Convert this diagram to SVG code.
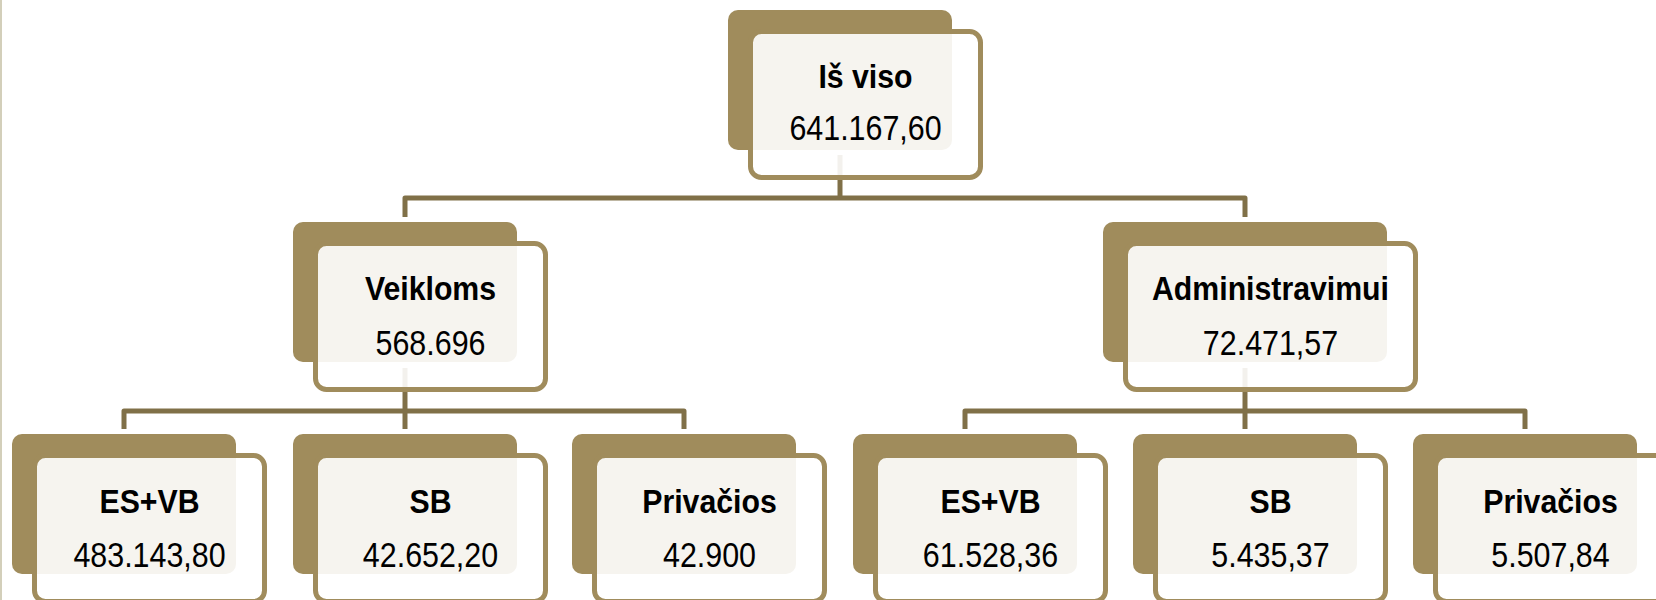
<svg xmlns="http://www.w3.org/2000/svg" width="1656" height="600" viewBox="0 0 1656 600">
<style>
.back{fill:#A08C5C}
.front{fill:#FFFFFF;fill-opacity:0.9;stroke:#A08C5C;stroke-width:5}
.conn{fill:none;stroke:#807048;stroke-width:5;stroke-linejoin:round}
.t{font-family:"Liberation Sans",Arial,sans-serif;font-weight:bold;font-size:34px;fill:#000;text-anchor:middle}
.v{font-family:"Liberation Sans",Arial,sans-serif;font-size:36px;fill:#000;text-anchor:middle}
</style>
<rect width="1656" height="600" fill="#FFFFFF"/>
<rect x="0" y="0" width="2" height="600" fill="#D3CFBA"/>
<g id="connectors">
<path class="conn" d="M840,155 V198"/>
<path class="conn" d="M405,217 V198 H1245 V217"/>
<path class="conn" d="M405,368 V429"/>
<path class="conn" d="M124,429 V411 H684 V429"/>
<path class="conn" d="M1245,368 V429"/>
<path class="conn" d="M965,429 V411 H1525 V429"/>
</g>
<g id="node-is-viso">
<rect class="back" x="728" y="10" width="224" height="140" rx="10"/>
<rect class="front" x="750.5" y="31.5" width="230" height="146" rx="11"/>
<text class="t" transform="translate(865.5,88) scale(0.89,1)">Iš viso</text>
<text class="v" transform="translate(865.5,140) scale(0.845,1)">641.167,60</text>
</g>
<g id="node-veikloms">
<rect class="back" x="293" y="222" width="224" height="140" rx="10"/>
<rect class="front" x="315.5" y="243.5" width="230" height="146" rx="11"/>
<text class="t" transform="translate(430.5,300) scale(0.89,1)">Veikloms</text>
<text class="v" transform="translate(430.5,355) scale(0.845,1)">568.696</text>
</g>
<g id="node-administravimui">
<rect class="back" x="1103" y="222" width="284" height="140" rx="10"/>
<rect class="front" x="1125.5" y="243.5" width="290" height="146" rx="11"/>
<text class="t" transform="translate(1270.5,300) scale(0.89,1)">Administravimui</text>
<text class="v" transform="translate(1270.5,355) scale(0.845,1)">72.471,57</text>
</g>
<g id="node-veikloms-esvb">
<rect class="back" x="12" y="434" width="224" height="140" rx="10"/>
<rect class="front" x="34.5" y="455.5" width="230" height="146" rx="11"/>
<text class="t" transform="translate(149.5,513) scale(0.89,1)">ES+VB</text>
<text class="v" transform="translate(149.5,567) scale(0.845,1)">483.143,80</text>
</g>
<g id="node-veikloms-sb">
<rect class="back" x="293" y="434" width="224" height="140" rx="10"/>
<rect class="front" x="315.5" y="455.5" width="230" height="146" rx="11"/>
<text class="t" transform="translate(430.5,513) scale(0.89,1)">SB</text>
<text class="v" transform="translate(430.5,567) scale(0.845,1)">42.652,20</text>
</g>
<g id="node-veikloms-privacios">
<rect class="back" x="572" y="434" width="224" height="140" rx="10"/>
<rect class="front" x="594.5" y="455.5" width="230" height="146" rx="11"/>
<text class="t" transform="translate(709.5,513) scale(0.89,1)">Privačios</text>
<text class="v" transform="translate(709.5,567) scale(0.845,1)">42.900</text>
</g>
<g id="node-admin-esvb">
<rect class="back" x="853" y="434" width="224" height="140" rx="10"/>
<rect class="front" x="875.5" y="455.5" width="230" height="146" rx="11"/>
<text class="t" transform="translate(990.5,513) scale(0.89,1)">ES+VB</text>
<text class="v" transform="translate(990.5,567) scale(0.845,1)">61.528,36</text>
</g>
<g id="node-admin-sb">
<rect class="back" x="1133" y="434" width="224" height="140" rx="10"/>
<rect class="front" x="1155.5" y="455.5" width="230" height="146" rx="11"/>
<text class="t" transform="translate(1270.5,513) scale(0.89,1)">SB</text>
<text class="v" transform="translate(1270.5,567) scale(0.845,1)">5.435,37</text>
</g>
<g id="node-admin-privacios">
<rect class="back" x="1413" y="434" width="224" height="140" rx="10"/>
<rect class="front" x="1435.5" y="455.5" width="230" height="146" rx="11"/>
<text class="t" transform="translate(1550.5,513) scale(0.89,1)">Privačios</text>
<text class="v" transform="translate(1550.5,567) scale(0.845,1)">5.507,84</text>
</g>
</svg>
